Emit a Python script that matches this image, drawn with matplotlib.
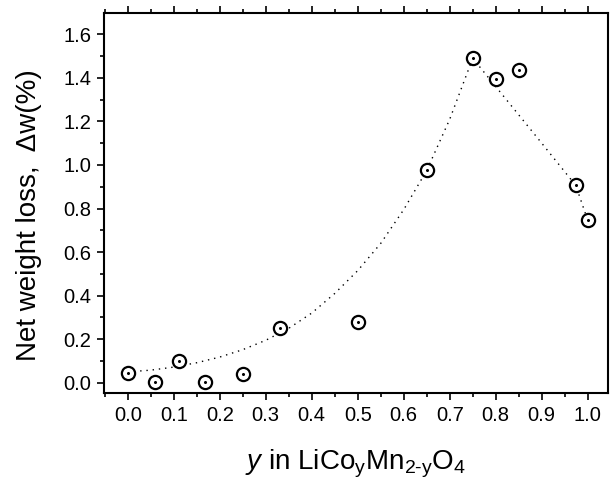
import numpy as np
import matplotlib
matplotlib.use("Agg")
import matplotlib.pyplot as plt
from matplotlib.ticker import MultipleLocator

plt.rcParams['font.family'] = ['Liberation Sans', 'DejaVu Sans']
plt.rcParams['mathtext.fontset'] = 'custom'
plt.rcParams['mathtext.rm'] = 'Liberation Sans'
plt.rcParams['mathtext.it'] = 'Liberation Sans:italic'

# measured points: y (Co content) and net weight loss (%)
y_co = [0.0, 0.06, 0.1125, 0.1675, 0.25, 0.33, 0.5, 0.65, 0.75, 0.80, 0.85, 0.974, 1.0]
dw = [0.043, 0.005, 0.10, 0.005, 0.042, 0.25, 0.28, 0.978, 1.49, 1.394, 1.435, 0.906, 0.746]

# dotted guide line
guide_x = [0.0, 0.05, 0.1, 0.15, 0.2, 0.25, 0.3, 0.35, 0.4, 0.45, 0.5, 0.55, 0.6, 0.65,
           0.7, 0.75, 0.8, 0.85, 0.9, 0.974, 1.0]
guide_y = [0.05, 0.058, 0.072, 0.092, 0.118, 0.152, 0.195, 0.25, 0.32, 0.41, 0.515, 0.64,
           0.795, 0.975, 1.21, 1.49, 1.36, 1.23, 1.10, 0.906, 0.746]

fig = plt.figure(figsize=(6.1, 4.82), dpi=100)
ax = fig.add_axes([0.1705, 0.1846, 0.8262, 0.7874])

ax.plot(guide_x, guide_y, color='black', linestyle=(0, (1, 3.5)), linewidth=1.0)
ax.plot(y_co, dw, linestyle='none', marker='o', markersize=9.5, markerfacecolor='white',
        markeredgecolor='black', markeredgewidth=1.6)
ax.plot(y_co, dw, linestyle='none', marker='o', markersize=1.2, color='black')

ax.set_xlim(-0.0515, 1.044)
ax.set_ylim(-0.047, 1.6955)

ax.xaxis.set_major_locator(MultipleLocator(0.1))
ax.xaxis.set_minor_locator(MultipleLocator(0.05))
ax.yaxis.set_major_locator(MultipleLocator(0.2))
ax.yaxis.set_minor_locator(MultipleLocator(0.1))
ax.xaxis.set_major_formatter(lambda v, p: '%.1f' % v)
ax.yaxis.set_major_formatter(lambda v, p: '%.1f' % v)

for s in ax.spines.values():
    s.set_linewidth(1.5)

ax.tick_params(which='both', direction='out', top=True, right=False, width=1.2,
               labelsize=14.5, pad=4)
ax.tick_params(which='major', length=5)
ax.tick_params(which='minor', length=3)

ax.set_ylabel('Net weight loss,  \u0394w(%)', fontsize=20)
ax.yaxis.set_label_coords(-0.123, 0.469)
ax.set_xlabel(r'$\it{y}$ in LiCo$_\mathrm{y}$Mn$_\mathrm{2\text{-}y}$O$_4$', fontsize=20)
ax.xaxis.set_label_coords(0.5, -0.145)

fig.savefig('out.png', dpi=100)
